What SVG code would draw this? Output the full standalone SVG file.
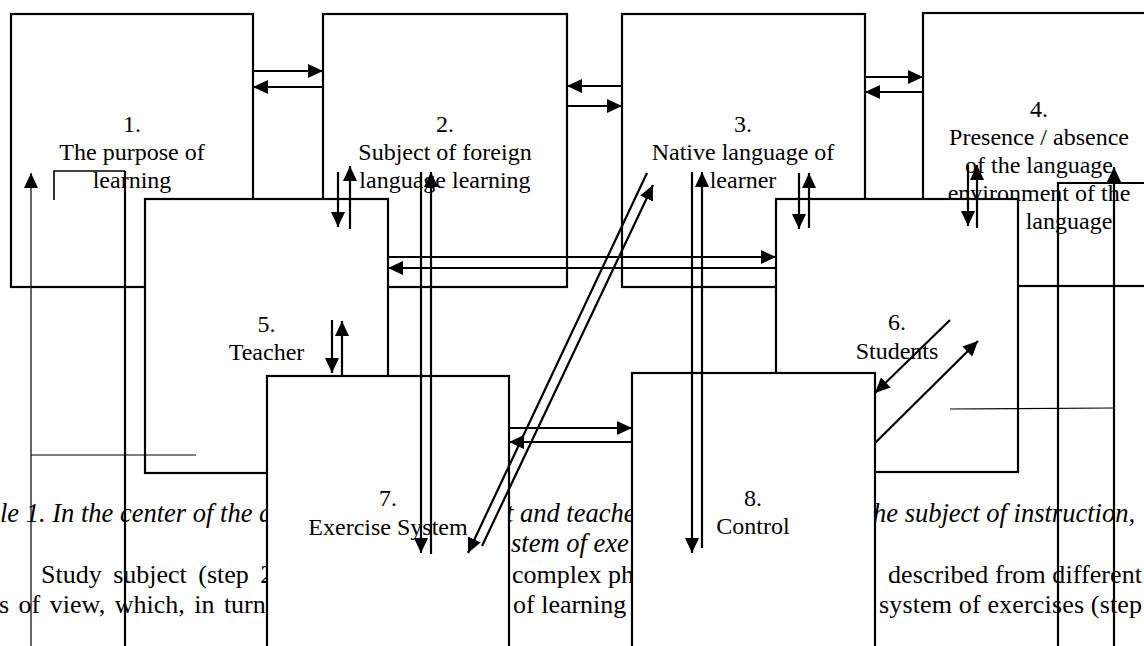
<svg xmlns="http://www.w3.org/2000/svg" width="1144" height="646" viewBox="0 0 1144 646">
<defs>
<style>
.box{fill:#fff;stroke:#000;stroke-width:2.2}
.lbl{font-family:"Liberation Serif","Times New Roman",serif;font-size:24px;text-anchor:middle;fill:#000}
.body{font-family:"Liberation Serif","Times New Roman",serif;font-size:26px;fill:#000}
.it{font-style:italic;font-size:26.5px}
.ln{fill:none;stroke:#000;stroke-width:2.2}
.thin{fill:none;stroke:#000;stroke-width:1.2}
</style>
<marker id="ah" markerUnits="userSpaceOnUse" markerWidth="16" markerHeight="14" refX="15" refY="7" orient="auto" viewBox="0 0 16 14"><path d="M0,0 L15,7 L0,14 z" fill="#000"/></marker>
</defs>
<rect width="1144" height="646" fill="#fff"/>
<g id="body-text">
<text class="body it" x="0" y="522">le 1. In the center of the a</text>
<text class="body it" x="506" y="522">t and teache</text>
<text class="body it" x="873" y="522">he subject of instruction,</text>
<text class="body it" x="511" y="552">stem of exe</text>
<text class="body" x="41" y="583" word-spacing="5">Study subject (step 2</text>
<text class="body" x="512" y="583">complex ph</text>
<text class="body" x="888" y="583" textLength="254" lengthAdjust="spacing">described from different</text>
<text class="body" x="-1" y="613" word-spacing="3">s of view, which, in turn</text>
<text class="body" x="513" y="613">of learning</text>
<text class="body" x="879" y="613" textLength="263" lengthAdjust="spacing">system of exercises (step</text>
</g>
<g id="node1"><rect class="box" x="11" y="14" width="242" height="273"/>
<text class="lbl" x="132" y="132">1.</text><text class="lbl" x="132" y="160">The purpose of</text><text class="lbl" x="132" y="188">learning</text></g>
<g id="node2"><rect class="box" x="323" y="14" width="244" height="273"/>
<text class="lbl" x="445" y="132">2.</text><text class="lbl" x="445" y="160">Subject of foreign</text><text class="lbl" x="445" y="188">language learning</text></g>
<g id="node3"><rect class="box" x="622" y="14" width="243" height="273"/>
<text class="lbl" x="743" y="132">3.</text><text class="lbl" x="743" y="160">Native language of</text><text class="lbl" x="743" y="188">learner</text></g>
<g id="node4"><rect class="box" x="923" y="13" width="240" height="273"/>
<text class="lbl" x="1039" y="117">4.</text><text class="lbl" x="1039" y="145">Presence / absence</text><text class="lbl" x="1039" y="173">of the language</text><text class="lbl" x="1039" y="201">environment of the</text><text class="lbl" x="1069" y="229">language</text></g>
<g id="node5"><rect class="box" x="145" y="199" width="243" height="274"/>
<text class="lbl" x="266.5" y="332">5.</text><text class="lbl" x="266.5" y="360">Teacher</text></g>
<g id="node6"><rect class="box" x="776" y="199" width="242" height="273"/>
<text class="lbl" x="897" y="330">6.</text><text class="lbl" x="897" y="359">Students</text></g>
<g id="node7"><rect class="box" x="267" y="376" width="242" height="300"/>
<text class="lbl" x="388" y="506">7.</text><text class="lbl" x="388" y="535">Exercise System</text></g>
<g id="node8"><rect class="box" x="632" y="373" width="243" height="300"/>
<text class="lbl" x="753" y="506">8.</text><text class="lbl" x="753" y="534">Control</text></g>
<g id="connectors">
<path class="ln" d="M253,71 H323" marker-end="url(#ah)"/>
<path class="ln" d="M323,87 H253" marker-end="url(#ah)"/>
<path class="ln" d="M622,86 H567" marker-end="url(#ah)"/>
<path class="ln" d="M567,106 H622" marker-end="url(#ah)"/>
<path class="ln" d="M865,77 H923" marker-end="url(#ah)"/>
<path class="ln" d="M923,92 H865" marker-end="url(#ah)"/>
<path class="ln" d="M338,172 V227" marker-end="url(#ah)"/>
<path class="ln" d="M350,229 V166" marker-end="url(#ah)"/>
<path class="ln" d="M332,320 V373" marker-end="url(#ah)"/>
<path class="ln" d="M342,375 V321" marker-end="url(#ah)"/>
<path class="ln" d="M799,173 V229" marker-end="url(#ah)"/>
<path class="ln" d="M809,228 V173" marker-end="url(#ah)"/>
<path class="ln" d="M968,165 V226" marker-end="url(#ah)"/>
<path class="ln" d="M977,228 V165" marker-end="url(#ah)"/>
<path class="ln" d="M388,257 H776" marker-end="url(#ah)"/>
<path class="ln" d="M776,268 H388" marker-end="url(#ah)"/>
<path class="ln" d="M509,428 H632" marker-end="url(#ah)"/>
<path class="ln" d="M632,442 H509" marker-end="url(#ah)"/>
<path class="ln" d="M647,173 L468,553" marker-end="url(#ah)"/>
<path class="ln" d="M482,546 L653,185" marker-end="url(#ah)"/>
<path class="ln" d="M421,172 V553" marker-end="url(#ah)"/>
<path class="ln" d="M431,554 V172" marker-end="url(#ah)"/>
<path class="ln" d="M692,172 V553" marker-end="url(#ah)"/>
<path class="ln" d="M702,548 V172" marker-end="url(#ah)"/>
<path class="ln" d="M950,320 L875,393" marker-end="url(#ah)"/>
<path class="ln" d="M875,443 L978,341" marker-end="url(#ah)"/>
<path class="thin" d="M31,646 V173" marker-end="url(#ah)"/>
<path class="thin" d="M31,455 H196"/>
<path class="thin" d="M54,200 V171 H125" style="stroke-width:1.6"/>
<path class="ln" d="M125,171 V646"/>
<path class="ln" d="M1058,646 V183 H1144"/>
<path class="ln" d="M1114,646 V167" marker-end="url(#ah)"/>
<path class="thin" d="M950,409 L1113,408"/>
</g>
</svg>
